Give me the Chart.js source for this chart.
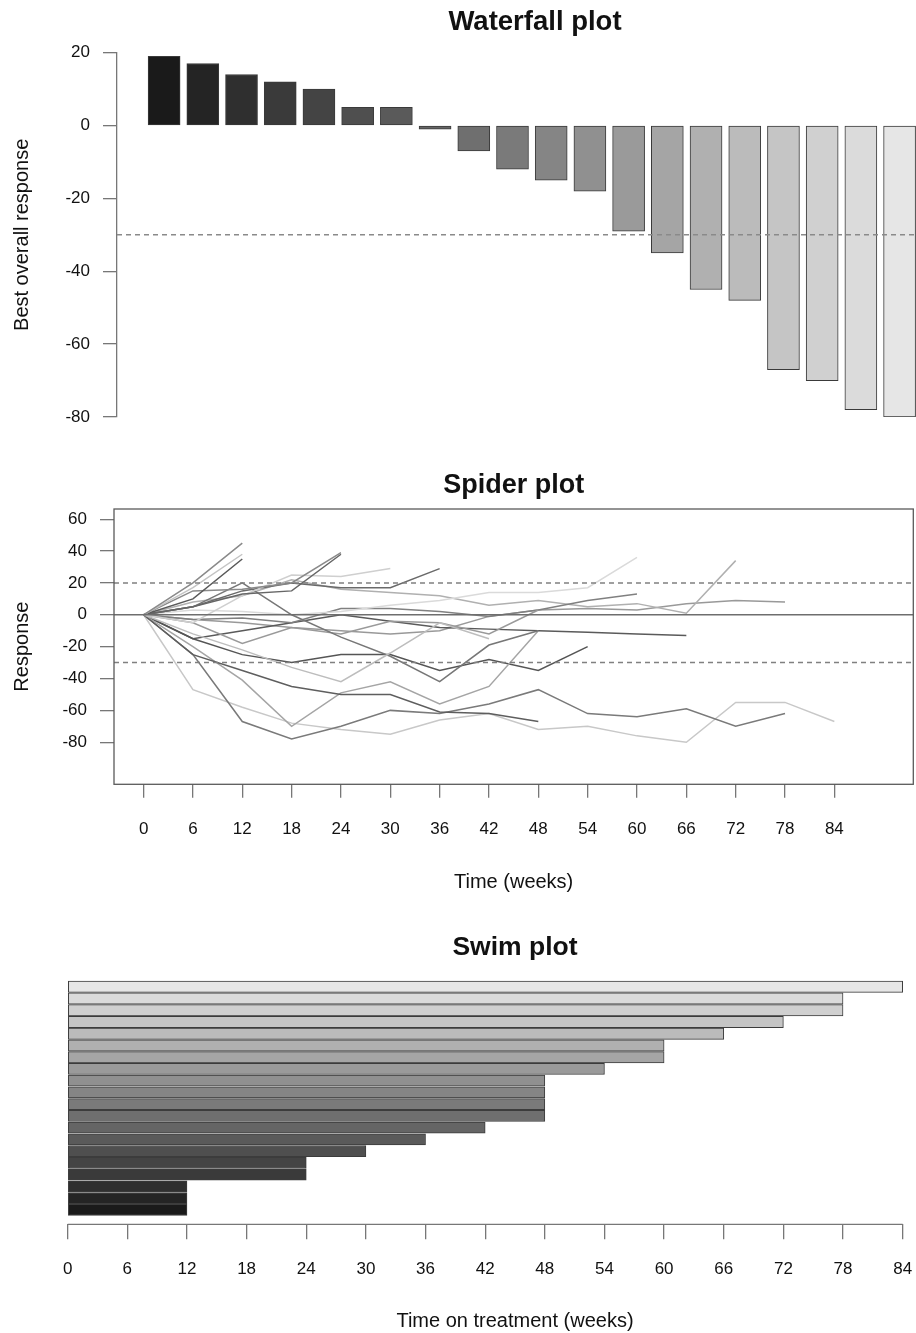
<!DOCTYPE html>
<html>
<head>
<meta charset="utf-8">
<script src="https://cdn.jsdelivr.net/npm/chart.js@4.4.1/dist/chart.umd.min.js"></script>
<style>
  html, body { margin: 0; padding: 0; background: #fff; overflow: hidden; width: 916px; height: 1333px; }
  canvas { position: absolute; left: 0; }
  #waterfall { top: 0; }
  #spider { top: 460px; }
  #swim { top: 930px; }
</style>
</head>
<body>
<canvas id="waterfall" width="953" height="460"></canvas>
<canvas id="spider" width="916" height="470"></canvas>
<canvas id="swim" width="963" height="403"></canvas>
<script>
// patients, darkest (1) to lightest (20)
const patientIds = [1, 2, 3, 4, 5, 6, 7, 8, 9, 10, 11, 12, 13, 14, 15, 16, 17, 18, 19, 20];
const bestResponse = [19, 17, 14, 12, 10, 5, 5, -1, -7, -12, -15, -18, -29, -35, -45, -48, -67, -70, -78, -80];
const weeksOnTreatment = [12, 12, 12, 24, 24, 30, 36, 42, 48, 48, 48, 48, 54, 60, 60, 66, 72, 78, 78, 84];

const visitWeeks = [0, 6, 12, 18, 24, 30, 36, 42, 48, 54, 60, 66, 72, 78, 84];
const waterfallTicks = [-80, -60, -40, -20, 0, 20];
const spiderTicks = [-80, -60, -40, -20, 0, 20, 40, 60];

const progressionCut = 20;
const responseCut = -30;

// response at each visit (0, 6, 12 ... weeks) for every patient
const spiderResponse = [
  [0, 20, 45],
  [0, 17, 38],
  [0, 10, 35],
  [0, 15, 16, 20, 39],
  [0, 5, 13, 15, 38],
  [0, -5, 12, 25, 24, 29],
  [0, 5, 15, 20, 17, 17, 29],
  [0, -12, -22, -33, -42, -24, -5, -15],
  [0, 5, 20, 0, -14, -26, -42, -19, -10],
  [0, -25, -35, -45, -50, -50, -61, -62, -67],
  [0, -20, -41, -70, -49, -42, -56, -45, -10],
  [0, -5, -18, -8, -12, -4, -5, -12, 3],
  [0, -15, -25, -30, -25, -25, -35, -28, -35, -20],
  [0, 3, 2, 0, 2, 6, 9, 14, 14, 17, 36],
  [0, -3, -2, -5, 4, 4, 2, -1, 3, 9, 13],
  [0, -15, -10, -5, 0, -4, -8, -9, -10, -11, -12, -13],
  [0, 8, 12, 22, 16, 14, 12, 6, 9, 5, 7, 1, 34],
  [0, -3, -5, -8, -10, -12, -10, -1, 3, 4, 3, 7, 9, 8],
  [0, -25, -67, -78, -70, -60, -62, -56, -47, -62, -64, -59, -70, -62],
  [0, -47, -58, -68, -72, -75, -66, -62, -72, -70, -76, -80, -55, -55, -67]
];

Chart.defaults.font.family = "'Liberation Sans', Arial, Helvetica, sans-serif";
Chart.defaults.color = '#111';

const grey = (i, n) => {
  const g = Math.round(255 * (0.1 + 0.8 * i / (n - 1)));
  return `rgb(${g},${g},${g})`;
};
const patientGreys = patientIds.map((p, i) => grey(i, patientIds.length));
const spiderGreys = ['#8a8a8a', '#c4c4c4', '#5a5a5a', '#8a8a8a', '#666666', '#cfcfcf', '#6a6a6a', '#bdbdbd',
  '#777777', '#5e5e5e', '#a5a5a5', '#9a9a9a', '#555555', '#dadada', '#808080', '#5a5a5a',
  '#b0b0b0', '#999999', '#7a7a7a', '#c8c8c8'];

// R-like frame: box round the plot, or an axis line from first to last tick
const rFrame = {
  id: 'rFrame',
  afterDatasetsDraw(chart, args, opts) {
    const { ctx, chartArea: a } = chart;
    ctx.save();
    ctx.strokeStyle = opts.color || '#666';
    ctx.lineWidth = opts.width || 1.3;
    if (opts.box) ctx.strokeRect(a.left, a.top, a.right - a.left, a.bottom - a.top);
    if (opts.xLine) {
      const x = chart.scales.x;
      ctx.beginPath();
      ctx.moveTo(x.getPixelForValue(opts.xLine[0]), a.bottom);
      ctx.lineTo(x.getPixelForValue(opts.xLine[1]), a.bottom);
      ctx.stroke();
    }
    ctx.restore();
  }
};

const tickFont = { size: 17 };
const axisTitleFont = { size: 20 };
const mainTitle = (text, size, top, bottom) => ({
  display: true, text, fullSize: false, color: '#111',
  font: { size, weight: 'bold' }, padding: { top, bottom }
});
const tickGrid = len => ({ drawOnChartArea: false, tickLength: len, color: '#777', lineWidth: 1.3 });
const setTicks = list => s => { s.ticks = list.map(v => ({ value: v })); };

// Waterfall plot
const wfMin = -0.217, wfMax = 21.38;
new Chart(document.getElementById('waterfall'), {
  type: 'bar',
  data: {
    datasets: [
      {
        type: 'line',
        data: [{ x: wfMin, y: responseCut }, { x: wfMax, y: responseCut }],
        borderColor: '#8a8a8a', borderDash: [5, 4], borderWidth: 1.5, pointRadius: 0, order: 0
      },
      {
        data: patientIds.map((p, i) => ({ x: p, y: bestResponse[i] })),
        backgroundColor: patientGreys,
        borderColor: '#3a3a3a', borderWidth: 1, borderSkipped: false, barThickness: 32, order: 1
      }
    ]
  },
  options: {
    responsive: false, animation: false,
    layout: { padding: { left: 0, right: 0, top: 0, bottom: 43 } },
    plugins: {
      legend: { display: false }, tooltip: { enabled: false },
      title: mainTitle('Waterfall plot', 27.5, 5.8, 13.8)
    },
    scales: {
      x: { type: 'linear', display: false, offset: false, min: wfMin, max: wfMax },
      y: {
        min: -80, max: 20,
        afterFit: s => { s.width = 117; },
        afterBuildTicks: setTicks(waterfallTicks),
        grid: tickGrid(14),
        border: { display: true, color: '#777', width: 1.3 },
        ticks: { padding: 13, font: tickFont, color: '#111', autoSkip: false },
        title: { display: true, text: 'Best overall response', font: axisTitleFont, color: '#111', padding: { top: 10 } }
      }
    }
  }
});

// Spider plot
const spMinX = -3.6, spMaxX = 93.6;
const refLine = (y, dash) => ({
  data: [{ x: spMinX, y }, { x: spMaxX, y }],
  borderColor: dash ? '#808080' : '#6e6e6e', borderDash: dash ? [5, 4] : [],
  borderWidth: 1.5, pointRadius: 0
});
new Chart(document.getElementById('spider'), {
  type: 'line',
  data: {
    datasets: [
      refLine(0, false), refLine(progressionCut, true), refLine(responseCut, true),
      ...spiderResponse.map((vals, i) => ({
        data: vals.map((v, j) => ({ x: visitWeeks[j], y: v })),
        borderColor: spiderGreys[i], borderWidth: 1.5, pointRadius: 0, tension: 0
      }))
    ]
  },
  options: {
    responsive: false, animation: false,
    layout: { padding: { left: 0, right: 2.7, top: 0, bottom: 0 } },
    plugins: {
      legend: { display: false }, tooltip: { enabled: false },
      title: mainTitle('Spider plot', 27, 9.1, 7.5),
      rFrame: { box: true, color: '#5a5a5a', width: 1.3 }
    },
    scales: {
      x: {
        type: 'linear', min: spMinX, max: spMaxX,
        afterFit: s => { s.height = 145.7; },
        afterBuildTicks: setTicks(visitWeeks),
        grid: tickGrid(13.4),
        border: { display: false },
        ticks: { padding: 21, font: tickFont, color: '#111', maxRotation: 0, autoSkip: false },
        title: { display: true, text: 'Time (weeks)', font: axisTitleFont, color: '#111', padding: { bottom: 36 } }
      },
      y: {
        min: -106.4, max: 66.4,
        afterFit: s => { s.width = 114; },
        afterBuildTicks: setTicks(spiderTicks),
        grid: tickGrid(14),
        border: { display: false },
        ticks: { padding: 13, font: tickFont, color: '#111', autoSkip: false },
        title: { display: true, text: 'Response', font: axisTitleFont, color: '#111', padding: { top: 10 } }
      }
    }
  },
  plugins: [rFrame]
});

// Swim plot
new Chart(document.getElementById('swim'), {
  type: 'bar',
  data: {
    datasets: [{
      data: patientIds.map((p, i) => ({ x: weeksOnTreatment[i], y: p })),
      backgroundColor: patientGreys,
      borderColor: '#3c3c3c', borderWidth: 1, borderSkipped: false, barThickness: 11.2
    }]
  },
  options: {
    indexAxis: 'y',
    responsive: false, animation: false,
    layout: { padding: { left: 67.7, right: 0.7, top: 0, bottom: 0 } },
    plugins: {
      legend: { display: false }, tooltip: { enabled: false },
      title: mainTitle('Swim plot', 26.5, 2.1, 11.1),
      rFrame: { xLine: [0, 84], color: '#777', width: 1.3 }
    },
    scales: {
      x: {
        type: 'linear', min: 0, max: 90,
        afterFit: s => { s.height = 108.7; },
        afterBuildTicks: setTicks(visitWeeks),
        grid: tickGrid(15),
        border: { display: false },
        ticks: { padding: 20, font: tickFont, color: '#111', maxRotation: 0, autoSkip: false },
        title: { display: true, text: 'Time on treatment (weeks)', font: axisTitleFont, color: '#111', padding: { bottom: 0 } }
      },
      y: { type: 'linear', display: false, offset: false, min: -0.23, max: 21.0 }
    }
  },
  plugins: [rFrame]
});
</script>
</body>
</html>
